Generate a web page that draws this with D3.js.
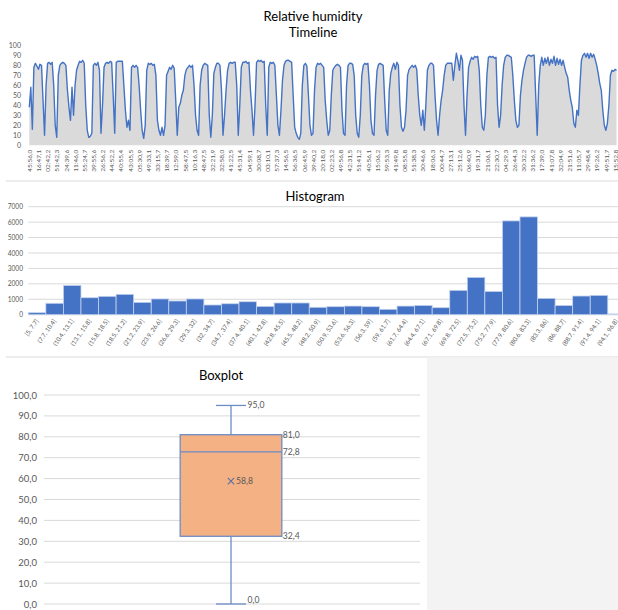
<!DOCTYPE html>
<html>
<head>
<meta charset="utf-8">
<script src="https://cdn.jsdelivr.net/npm/d3@7"></script>
<style>
  html, body { margin: 0; padding: 0; background: #fff; }
  svg { display: block; font-family: Lato, "Open Sans", sans-serif; }
</style>
</head>
<body>
<svg id="chart" width="618" height="610"></svg>
<script>
// Relative humidity readings (%), sampled along the timeline
const humidity = [
  38,58,16,78,82,79,76,81,80,45, 10,60,82,83,81,83,60,20,8,70,
  80,82,83,82,80,55,38,25,58,30, 60,75,80,84,83,85,82,40,15,8,
  9,12,80,82,80,83,75,12,40,78, 82,83,82,84,83,50,12,83,84,84,
  84,84,60,35,18,25,15,78,80,78, 80,78,60,35,15,7,20,75,82,81,
  82,80,81,70,25,15,10,18,10,20, 70,74,78,76,80,77,45,10,38,42,
  50,55,70,76,78,80,78,80,60,30, 15,10,60,75,80,82,81,80,30,8,
  30,72,78,82,82,80,55,10,30,55, 75,82,83,82,83,83,60,10,40,78,
  83,83,84,82,83,55,35,10,40,83, 85,84,85,83,84,40,10,78,83,82,
  83,80,50,20,10,35,65,80,84,85, 85,84,83,50,18,12,8,6,12,60,
  80,82,79,50,20,10,12,55,78,82, 81,82,80,78,45,25,10,15,50,75,
  78,80,81,80,78,35,12,10,60,80, 82,82,81,70,30,12,8,30,70,80,
  82,81,82,60,25,12,10,50,75,81, 82,81,80,45,15,10,55,72,78,82,
  76,83,80,40,18,14,18,35,70,76, 78,80,78,80,76,50,30,20,35,15,
  40,75,80,82,82,80,50,25,10,30, 45,55,70,80,82,82,82,82,65,80,
  92,85,75,90,85,40,10,50,78,84, 88,86,89,88,89,75,40,18,15,30,
  70,88,89,88,89,87,88,40,18,30, 60,80,88,90,90,89,88,70,45,25,
  18,20,50,65,75,82,88,90,90,89, 90,90,50,10,60,80,88,80,87,82,
  88,80,86,82,89,80,87,81,86,80, 85,78,72,68,55,45,38,22,18,35,
  30,60,85,90,92,88,92,87,92,88, 91,86,80,72,62,55,35,20,15,22,
  40,70,75,74,76,75
];

// Time labels shown on the timeline axis (one every 6 readings)
const timeLabels = [
  "45:56,0","16:47,1","02:42,2","51:42,3","24:39,6","11:46,0","55:24,7","39:55,6",
  "26:56,2","44:52,2","40:55,4","43:05,5","05:30,9","49:33,1","33:15,7","18:39,7",
  "12:59,0","58:47,5","10:16,3","48:47,5","32:21,9","32:58,0","41:22,5","45:31,4",
  "04:59,1","30:08,7","03:10,1","57:37,3","14:56,5","56:36,5","06:45,9","39:40,2",
  "20:18,0","02:23,2","49:56,8","42:31,5","51:41,2","40:56,1","15:06,2","59:53,3",
  "41:49,8","08:55,8","51:38,3","30:46,6","18:06,3","00:44,7","27:13,1","25:12,6",
  "06:40,9","19:31,7","21:06,1","22:30,7","04:29,3","26:44,3","30:32,2","31:36,2",
  "17:39,0","41:07,8","32:04,9","21:51,6","11:05,7","29:48,4","19:26,2","49:51,7",
  "15:52,8"
];
const labelEvery = 6;

// Histogram bins and counts
const binLabels = [
  "[5, 7.7]","(7.7, 10.4]","(10.4, 13.1]","(13.1, 15.8]","(15.8, 18.5]","(18.5, 21.2]",
  "(21.2, 23.9]","(23.9, 26.6]","(26.6, 29.3]","(29.3, 32]","(32, 34.7]","(34.7, 37.4]",
  "(37.4, 40.1]","(40.1, 42.8]","(42.8, 45.5]","(45.5, 48.2]","(48.2, 50.9]","(50.9, 53.6]",
  "(53.6, 56.3]","(56.3, 59]","(59, 61.7]","(61.7, 64.4]","(64.4, 67.1]","(67.1, 69.8]",
  "(69.8, 72.5]","(72.5, 75.2]","(75.2, 77.9]","(77.9, 80.6]","(80.6, 83.3]","(83.3, 86]",
  "(86, 88.7]","(88.7, 91.4]","(91.4, 94.1]","(94.1, 96.8]"
];
const binCounts = [
  130,740,1900,1100,1190,1320,800,1020,890,1020,630,710,
  840,540,760,760,480,520,560,520,350,560,600,455,
  1580,2420,1510,6080,6340,1060,600,1210,1255,50
];
const histTicks = [0,1000,2000,3000,4000,5000,6000,7000];

// Boxplot summary: min, Q1, median, Q3, max, and the mean
const boxValues = [0.0, 32.4, 72.8, 81.0, 95.0];
const boxMean = 58.8;
const boxTicks = [0,10,20,30,40,50,60,70,80,90,100];

const svg = d3.select("#chart");
const blue = "#4472C4";
const axisGray = "#595959";
const gridGray = "#d9d9d9";
const fmtComma = d => d3.format(".1f")(d).replace(".", ",");

// ---------- Timeline ----------
{
  const y = d3.scaleLinear().domain([0, 100]).range([145.3, 45.3]);
  const x = d3.scaleLinear().domain([0, (timeLabels.length - 1) * labelEvery]).range([29.3, 615]);

  const area = d3.area().x((d, i) => x(i)).y0(y(0)).y1(d => y(d));
  const line = d3.line().x((d, i) => x(i)).y(d => y(d));

  svg.append("path").datum(humidity).attr("d", area).attr("fill", "#dadada");
  svg.append("path").datum(humidity).attr("d", line)
    .attr("fill", "none").attr("stroke", blue).attr("stroke-width", 1.4)
    .attr("stroke-linejoin", "round");

  const ya = svg.append("g").attr("transform", "translate(24,0)")
    .call(d3.axisLeft(y).tickValues(d3.range(0, 101, 10)).tickSize(0).tickPadding(3));
  ya.select(".domain").remove();
  ya.selectAll("text").attr("fill", axisGray).style("font-size", "7px").style("font-family", "Lato, sans-serif");

  const xa = svg.append("g").attr("transform", `translate(0,${y(0)})`)
    .call(d3.axisBottom(x)
      .tickValues(timeLabels.map((d, i) => i * labelEvery))
      .tickFormat((d, i) => timeLabels[i]).tickSize(0));
  xa.select(".domain").remove();
  xa.selectAll("text")
    .attr("transform", "rotate(-90)").attr("x", -4.5).attr("y", 0).attr("dy", "0.33em")
    .style("text-anchor", "end").attr("fill", axisGray)
    .style("font-size", "6.5px").style("font-family", "Lato, sans-serif");

  svg.append("text").attr("x", 313).attr("y", 20.5).attr("text-anchor", "middle")
    .style("font-size", "13px").attr("fill", "#000").text("Relative humidity");
  svg.append("text").attr("x", 313).attr("y", 37.3).attr("text-anchor", "middle")
    .style("font-size", "13px").attr("fill", "#000").text("Timeline");

  svg.append("line").attr("x1", 6).attr("x2", 618).attr("y1", 181).attr("y2", 181)
    .attr("stroke", gridGray).attr("stroke-width", 1);
}

// ---------- Histogram ----------
{
  const y = d3.scaleLinear().domain([0, 7000]).range([314.7, 206.7]);
  const x = d3.scaleBand().domain(binLabels).range([28.3, 28.3 + 17.56 * binLabels.length]).padding(0);

  svg.append("g").selectAll("line").data(histTicks).join("line")
    .attr("x1", 28.3).attr("x2", 618).attr("y1", d => y(d)).attr("y2", d => y(d))
    .attr("stroke", gridGray).attr("stroke-width", 1);

  svg.append("rect").attr("x", 263).attr("y", 186).attr("width", 104).attr("height", 18).attr("fill", "#fff");
  svg.append("text").attr("x", 315).attr("y", 200.5).attr("text-anchor", "middle")
    .style("font-size", "13px").attr("fill", "#000").text("Histogram");

  svg.append("g").selectAll("rect").data(binCounts).join("rect")
    .attr("x", (d, i) => x(binLabels[i]))
    .attr("y", d => y(d))
    .attr("width", x.bandwidth())
    .attr("height", d => y(0) - y(d))
    .attr("fill", blue).attr("stroke", "#c5d3ee").attr("stroke-width", 0.8);

  const ya = svg.append("g").attr("transform", "translate(26,0)")
    .call(d3.axisLeft(y).tickValues(histTicks).tickFormat(d3.format("d")).tickSize(0).tickPadding(3));
  ya.select(".domain").remove();
  ya.selectAll("text").attr("fill", axisGray).style("font-size", "6.6px").style("font-family", "Lato, sans-serif");

  const xa = svg.append("g").attr("transform", `translate(0,${y(0)})`)
    .call(d3.axisBottom(x).tickSize(0));
  xa.select(".domain").remove();
  xa.selectAll("text")
    .attr("x", 0).attr("y", 0).attr("dy", "0.35em")
    .attr("transform", "translate(0,5) rotate(-55)")
    .style("text-anchor", "end").attr("fill", axisGray)
    .style("font-size", "6.2px").style("font-family", "Lato, sans-serif");

  svg.append("line").attr("x1", 6).attr("x2", 618).attr("y1", 357).attr("y2", 357)
    .attr("stroke", gridGray).attr("stroke-width", 1);
}

// ---------- Boxplot ----------
{
  svg.append("rect").attr("x", 427).attr("y", 357.5).attr("width", 191).attr("height", 253).attr("fill", "#f3f3f3");

  const y = d3.scaleLinear().domain([0, 100]).range([604, 395]);
  const x = d3.scaleBand().domain(["humidity"]).range([42, 420]);
  const cx = x("humidity") + x.bandwidth() / 2;
  const bw = x.bandwidth() * 0.269;
  const capW = 30;
  const [mn, q1, med, q3, mx] = boxValues;
  const boxStroke = "#6d8cc4";

  svg.append("g").selectAll("line").data(boxTicks).join("line")
    .attr("x1", 44).attr("x2", 420).attr("y1", d => y(d)).attr("y2", d => y(d))
    .attr("stroke", gridGray).attr("stroke-width", 1);

  const ya = svg.append("g").attr("transform", "translate(40,0)")
    .call(d3.axisLeft(y).tickValues(boxTicks).tickFormat(fmtComma).tickSize(0).tickPadding(3));
  ya.select(".domain").remove();
  ya.selectAll("text").attr("fill", axisGray).style("font-size", "9.5px").style("font-family", "Lato, sans-serif");

  svg.append("text").attr("x", 221).attr("y", 379.5).attr("text-anchor", "middle")
    .style("font-size", "13px").attr("fill", "#000").text("Boxplot");

  // whiskers
  svg.append("line").attr("x1", cx).attr("x2", cx).attr("y1", y(mx)).attr("y2", y(q3))
    .attr("stroke", boxStroke).attr("stroke-width", 1.3);
  svg.append("line").attr("x1", cx).attr("x2", cx).attr("y1", y(q1)).attr("y2", y(mn))
    .attr("stroke", boxStroke).attr("stroke-width", 1.3);
  [mx, mn].forEach(v => {
    svg.append("line").attr("x1", cx - capW / 2).attr("x2", cx + capW / 2).attr("y1", y(v)).attr("y2", y(v))
      .attr("stroke", boxStroke).attr("stroke-width", 1.3);
  });
  // box and median
  svg.append("rect").attr("x", cx - bw / 2).attr("y", y(q3)).attr("width", bw).attr("height", y(q1) - y(q3))
    .attr("fill", "#f4b183").attr("stroke", boxStroke).attr("stroke-width", 1.3);
  svg.append("line").attr("x1", cx - bw / 2).attr("x2", cx + bw / 2).attr("y1", y(med)).attr("y2", y(med))
    .attr("stroke", boxStroke).attr("stroke-width", 1.3);
  // mean marker
  const m = 3.2;
  svg.append("path")
    .attr("d", `M${cx - m},${y(boxMean) - m}L${cx + m},${y(boxMean) + m}M${cx - m},${y(boxMean) + m}L${cx + m},${y(boxMean) - m}`)
    .attr("stroke", "#5a6fa3").attr("stroke-width", 1.1);

  const lbl = (xx, v, dyOff = 0) => svg.append("text").attr("x", xx).attr("y", y(v) + dyOff).attr("dy", "0.35em")
    .attr("fill", axisGray).style("font-size", "8.6px").text(fmtComma(v));
  lbl(cx + capW / 2 + 1.5, mx);
  lbl(cx + bw / 2 + 1, q3);
  lbl(cx + bw / 2 + 1, med);
  lbl(cx + bw / 2 + 1, q1);
  lbl(cx + capW / 2 + 1.5, mn, -4.5);
  lbl(cx + 5, boxMean);
}
</script>
</body>
</html>
